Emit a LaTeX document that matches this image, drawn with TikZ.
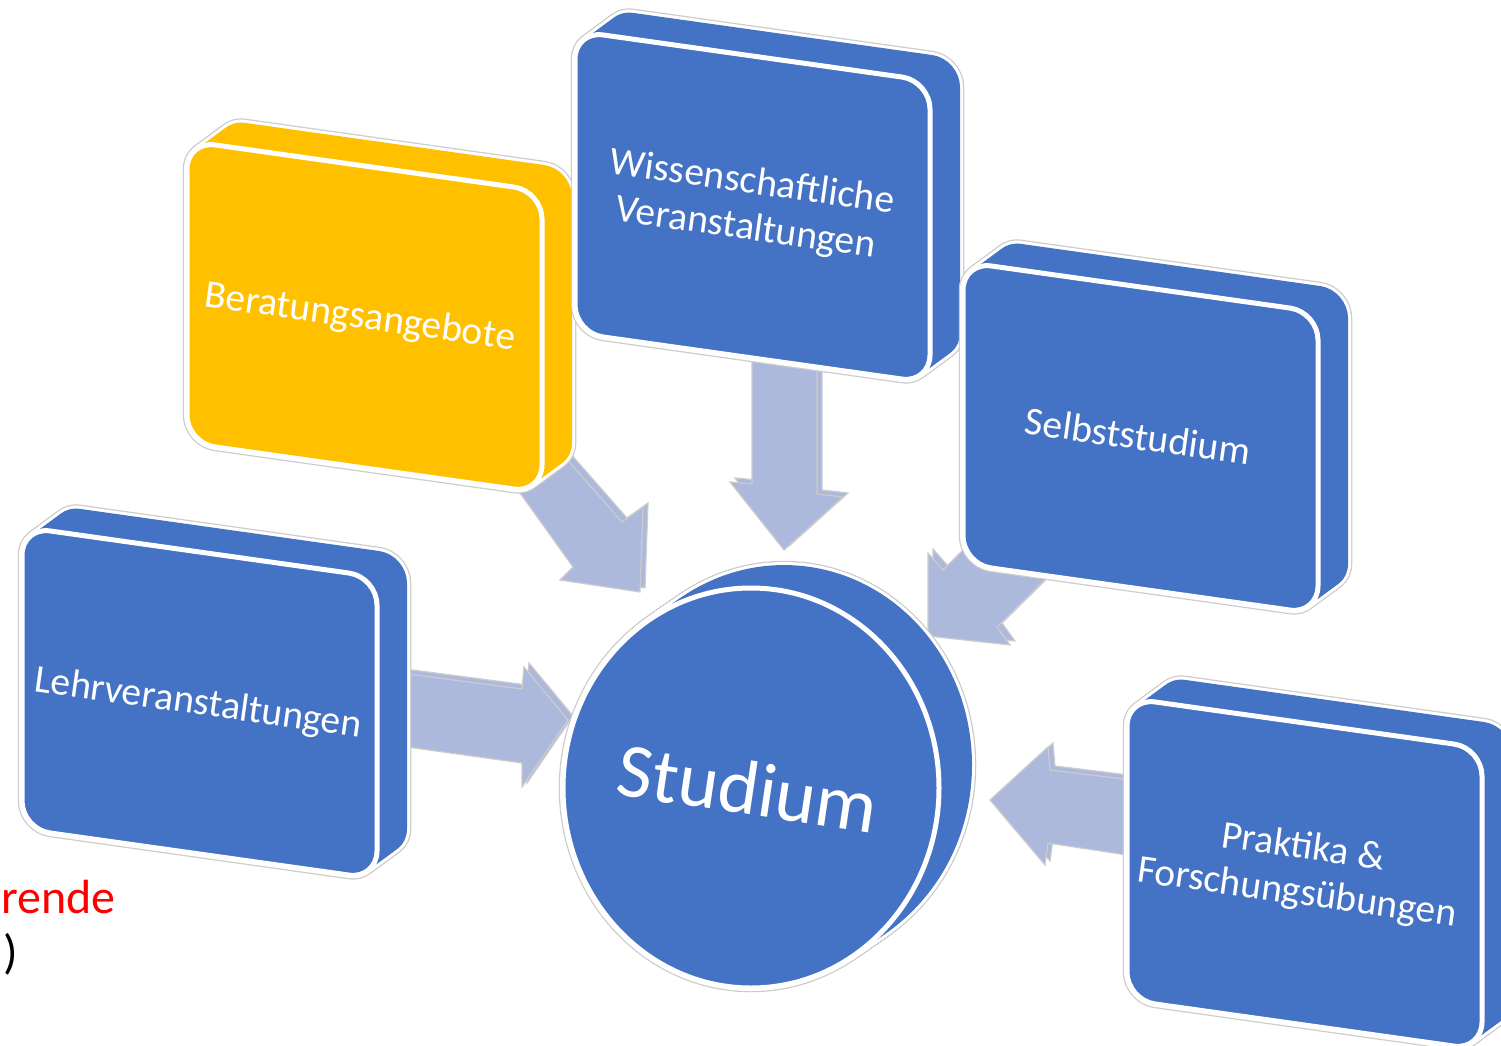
\documentclass[tikz,border=0pt]{standalone}
\usepackage{fontspec}
\setmainfont{Carlito}
\definecolor{boxblue}{HTML}{4472C4}
\definecolor{boxyellow}{HTML}{FFC000}
\definecolor{arrowfill}{HTML}{ADB9DC}
\definecolor{rim}{HTML}{CCCCCC}
\newcommand\facepath{(0,0) -- (355,50) -- (355,352) -- (0,302) -- cycle}
\newcommand\slabbox[3]{%
  \begin{scope}[shift={(#1,#2)}, rounded corners=28]
    \foreach \d in {0,...,15}{\draw[rim, line width=8.5, shift={(2*\d,-1.47*\d)}] \facepath;}
    \foreach \d in {0,...,15}{\draw[white, line width=6, shift={(2*\d,-1.47*\d)}] \facepath;}
    \foreach \d in {0,...,15}{\fill[#3, shift={(2*\d,-1.47*\d)}] \facepath;}
    \filldraw[fill=#3, draw=white, line width=5] \facepath;
  \end{scope}}
\newcommand\arrowL{(400,673) -- (522,689) -- (524,667) -- (568,720) -- (522,787) -- (522,763) -- (400,746) -- cycle}
\newcommand\arrowY{(500,465) -- (573,567) -- (560,580) -- (640,592) -- (643,507) -- (622,522) -- (550,440) -- cycle}
\newcommand\arrowW{(752,350) -- (752,484) -- (730,482) -- (784,550) -- (843,497) -- (817,494) -- (817,350) -- cycle}
\newcommand\arrowS{(990,523) -- (943,570) -- (928,553) -- (928,636) -- (1010,645) -- (997,627) -- (1070,555) -- cycle}
\newcommand\arrowP{(1140,781) -- (1050,770) -- (1048,747) -- (990,800) -- (1045,865) -- (1048,843) -- (1140,857) -- cycle}
\begin{document}
\begin{tikzpicture}[x=1pt,y=-1pt,
  blockarrow/.style={fill=arrowfill, draw=rim, line width=1.2, line join=miter},
  boxtext/.style={text=white, font=\fontsize{39.5}{46}\selectfont, rotate=-8, align=center},
  sidetext/.style={anchor=base west, inner sep=0, font=\fontsize{48}{52}\selectfont}]
\useasboundingbox (0,0) rectangle (1501,1046);
\clip (0,0) rectangle (1501,1046);
\fill[white] (0,0) rectangle (1501,1046);

% block arrows (behind the boxes)
\foreach \a in {\arrowL,\arrowY,\arrowW,\arrowS,\arrowP}{
  \draw[blockarrow, shift={(5,-4)}] \a;
  \draw[blockarrow] \a;}

% boxes
\slabbox{22}{527}{boxblue}
\slabbox{187}{141}{boxyellow}
\slabbox{575}{31}{boxblue}
\slabbox{963}{262}{boxblue}
\slabbox{1127}{698}{boxblue}

% central disc
\foreach \d in {0,...,15}{\draw[rim, line width=8.5, shift={(2.2*\d,-1.53*\d)}] (751,788) ellipse [x radius=188, y radius=200];}
\foreach \d in {0,...,15}{\draw[white, line width=6, shift={(2.2*\d,-1.53*\d)}] (751,788) ellipse [x radius=188, y radius=200];}
\foreach \d in {0,...,15}{\fill[boxblue, shift={(2.2*\d,-1.53*\d)}] (751,788) ellipse [x radius=188, y radius=200];}
\filldraw[fill=boxblue, draw=white, line width=5] (751,788) ellipse [x radius=188, y radius=200];

% texts
\node[boxtext] (lehr) at (198,704) {Lehrveranstaltungen};
\node[boxtext] (ber) at (360,318) {Beratungsangebote};
\node[boxtext] (wiss) at (749,206) {Wissenschaftliche\\Veranstaltungen};
\node[boxtext] (selbst) at (1138,436) {Selbststudium};
\node[boxtext] (prakt) at (1300,871) {Praktika \&\\Forschungsübungen};
\node[text=white, font=\fontsize{77}{80}\selectfont, rotate=-8.5] (stud) at (748,788) {Studium};

\node[sidetext, text=red] (rest) at (1,913) {rende};
\node[sidetext, text=black] (paren) at (3,968) {)};
\end{tikzpicture}
\end{document}
